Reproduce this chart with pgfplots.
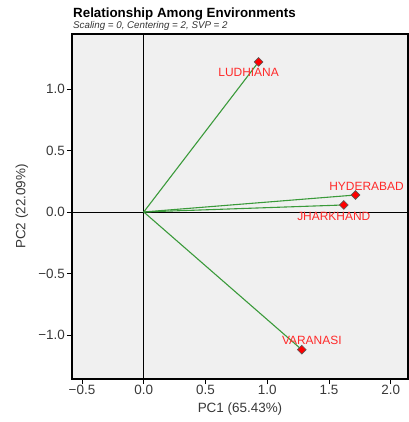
\documentclass[border=0pt]{standalone}
\usepackage{pgfplots}
\pgfplotsset{compat=1.18}
\usepackage{fontspec}
\setmainfont{Liberation Sans}
\definecolor{bgc}{HTML}{F0F0F0}
\definecolor{lnc}{HTML}{3A9A3A}
\definecolor{lbc}{HTML}{FF2A2A}
\newcommand{\mn}{\char"2212\relax}
\begin{document}
\begin{tikzpicture}[x=1bp,y=1bp]
\path[use as bounding box] (-72,-43) rectangle (337,379);
\begin{axis}[
  at={(0,0)}, anchor=south west,
  scale only axis, width=336bp, height=345bp,
  xmin=-0.581, xmax=2.14, ymin=-1.358, ymax=1.447,
  axis background/.style={fill=bgc},
  axis line style={black, line width=1.1pt},
  xtick={-0.5,0,0.5,1,1.5,2}, ytick={-1,-0.5,0,0.5,1},
  xticklabels={\mn0.5,0.0,0.5,1.0,1.5,2.0},
  yticklabels={\mn1.0,\mn0.5,0.0,0.5,1.0},
  tick align=outside, tick pos=left,
  major tick length=5bp,
  tick style={black, line width=0.8pt},
  ticklabel style={font=\fontsize{13.5}{14}\selectfont, text=black!78},
  xticklabel style={inner sep=1pt},
  yticklabel style={inner sep=1pt, xshift=-1bp},
  label style={font=\fontsize{13.5}{14}\selectfont, text=black!78},
  xlabel={PC1 (65.43\%)}, ylabel={PC2 (22.09\%)},
  xlabel style={at={([yshift=-30bp]axis description cs:0.5,0)}, anchor=center},
  ylabel style={at={([xshift=-50bp]axis description cs:0,0.5)}, anchor=center},
  clip=false,
]
\draw[black, line width=0.9pt] (axis cs:0,-1.358) -- (axis cs:0,1.447);
\draw[black, line width=0.9pt] (axis cs:-0.581,0) -- (axis cs:2.14,0);
\addplot[lnc, line width=1.1pt, no marks] coordinates {(0,0) (0.93,1.22)};
\addplot[lnc, line width=1.1pt, no marks] coordinates {(0,0) (1.715,0.138)};
\addplot[lnc, line width=1.1pt, no marks] coordinates {(0,0) (1.62,0.057)};
\addplot[lnc, line width=1.1pt, no marks] coordinates {(0,0) (1.28,-1.12)};
\pgfplotsset{lbl/.style={only marks, mark=square*, mark size=3.1bp,
  mark options={fill=red, draw=black!65, line width=0.6pt, rotate=45},
  nodes near coords, point meta=explicit symbolic,
  every node near coord/.append style={font=\fontsize{12}{12}\selectfont, text=lbc, inner sep=0pt, anchor=center, rotate=0}}}
\addplot[lbl, every node near coord/.append style={xshift=-10bp, yshift=-11bp}]
  coordinates {(0.93,1.22)[LUDHIANA]};
\addplot[lbl, every node near coord/.append style={xshift=11bp, yshift=9bp}]
  coordinates {(1.715,0.138)[HYDERABAD]};
\addplot[lbl, every node near coord/.append style={xshift=-10bp, yshift=-11bp}]
  coordinates {(1.62,0.057)[JHARKHAND]};
\addplot[lbl, every node near coord/.append style={xshift=10bp, yshift=9bp}]
  coordinates {(1.28,-1.12)[VARANASI]};
\end{axis}
\node[anchor=base west, inner sep=0pt, font=\fontsize{13.4}{14}\selectfont\bfseries] at (1,362) {Relationship Among Environments};
\node[anchor=base west, inner sep=0pt, font=\fontsize{9.8}{10}\selectfont\itshape, text=black!80] at (1,350.5) {Scaling = 0, Centering = 2, SVP = 2};
\end{tikzpicture}
\end{document}
